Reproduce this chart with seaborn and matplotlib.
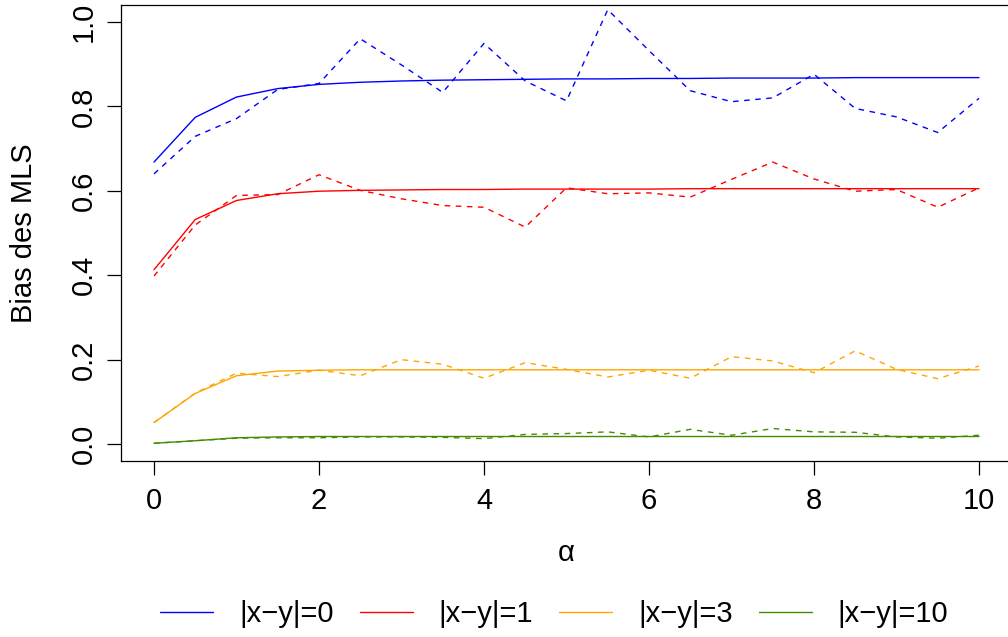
import matplotlib
matplotlib.use("Agg")
import matplotlib.pyplot as plt
import pandas as pd
import seaborn as sns

# ---- data ----
alpha = [0.0, 0.5, 1.0, 1.5, 2.0, 2.5, 3.0, 3.5, 4.0, 4.5, 5.0,
         5.5, 6.0, 6.5, 7.0, 7.5, 8.0, 8.5, 9.0, 9.5, 10.0]

theo_0 = [0.668, 0.774, 0.822, 0.842, 0.852, 0.857, 0.860, 0.862, 0.863, 0.864, 0.865,
          0.865, 0.866, 0.866, 0.867, 0.867, 0.867, 0.868, 0.868, 0.868, 0.868]
sim_0 = [0.640, 0.729, 0.771, 0.840, 0.854, 0.960, 0.898, 0.833, 0.949, 0.860, 0.813,
         1.029, 0.932, 0.837, 0.811, 0.820, 0.876, 0.795, 0.775, 0.738, 0.819]

theo_1 = [0.413, 0.532, 0.577, 0.593, 0.599, 0.601, 0.602, 0.603, 0.603, 0.604, 0.604,
          0.604, 0.604, 0.605, 0.605, 0.605, 0.605, 0.605, 0.605, 0.605, 0.605]
sim_1 = [0.398, 0.519, 0.589, 0.591, 0.638, 0.601, 0.581, 0.565, 0.561, 0.514, 0.607,
         0.593, 0.595, 0.585, 0.627, 0.668, 0.628, 0.599, 0.603, 0.561, 0.607]

theo_3 = [0.051, 0.120, 0.162, 0.173, 0.175, 0.176, 0.176, 0.176, 0.176, 0.176, 0.176,
          0.176, 0.176, 0.176, 0.176, 0.176, 0.176, 0.176, 0.176, 0.176, 0.176]
sim_3 = [0.051, 0.121, 0.168, 0.160, 0.175, 0.162, 0.200, 0.189, 0.156, 0.193, 0.177,
         0.159, 0.175, 0.156, 0.207, 0.197, 0.169, 0.221, 0.177, 0.155, 0.185]

theo_10 = [0.002, 0.008, 0.015, 0.017, 0.018, 0.018, 0.018, 0.018, 0.018, 0.018, 0.018,
           0.018, 0.018, 0.018, 0.018, 0.018, 0.018, 0.018, 0.018, 0.018, 0.018]
sim_10 = [0.002, 0.008, 0.014, 0.015, 0.015, 0.017, 0.017, 0.016, 0.013, 0.023, 0.025,
          0.029, 0.017, 0.035, 0.021, 0.037, 0.029, 0.028, 0.017, 0.014, 0.021]

labels = ["|x\u2212y|=0", "|x\u2212y|=1", "|x\u2212y|=3", "|x\u2212y|=10"]
colors = ["#0000FF", "#FF0000", "#FFA500", "#458B00"]
theo = [theo_0, theo_1, theo_3, theo_10]
sims = [sim_0, sim_1, sim_3, sim_10]

xticks = [0, 2, 4, 6, 8, 10]
yticks = [0.0, 0.2, 0.4, 0.6, 0.8, 1.0]
ytick_labels = ["0.0", "0.2", "0.4", "0.6", "0.8", "1.0"]

# ---- style ----
sns.set_theme(style="ticks")
plt.rcParams['font.family'] = ['Liberation Sans', 'DejaVu Sans']
plt.rcParams.update({
    'axes.edgecolor': 'black', 'xtick.color': 'black', 'ytick.color': 'black',
    'text.color': 'black', 'axes.labelcolor': 'black',
})
FS = 21

W, H = 1008, 637
fig = plt.figure(figsize=(W / 100, H / 100), dpi=100)
ax = fig.add_axes([121 / W, 1 - 461 / H, 891 / W, 456 / H])

handles = []
for lab, col, th, sm in zip(labels, colors, theo, sims):
    df = pd.DataFrame({"alpha": alpha, "theo": th, "sim": sm})
    sns.lineplot(data=df, x="alpha", y="theo", color=col, lw=1.0, ax=ax,
                 label=lab, errorbar=None)
    handles.append(ax.lines[-1])
    sns.lineplot(data=df, x="alpha", y="sim", color=col, lw=1.0, ax=ax,
                 linestyle=(0, (4, 4)), errorbar=None, legend=False)

if ax.get_legend() is not None:
    ax.get_legend().remove()

ax.set_xlim(-0.4, 10.4)
ax.set_ylim(-0.04, 1.04)
ax.set_xticks(xticks)
ax.set_xticklabels([str(t) for t in xticks])
ax.set_yticks(yticks)
ax.set_yticklabels(ytick_labels, rotation=90, va='center')

for s in ax.spines.values():
    s.set_visible(True)
    s.set_linewidth(0.9)
    s.set_color('black')

ax.tick_params(axis='both', direction='out', length=10, width=0.9,
               labelsize=FS, colors='black')
ax.tick_params(axis='x', pad=9)
ax.tick_params(axis='y', pad=7)

ax.set_xlabel("\u03b1", fontsize=FS)
ax.xaxis.label.set_va('center')
ax.xaxis.set_label_coords(0.5, (461 - 553) / 456)
ax.set_ylabel("Bias des MLS", fontsize=FS)
ax.yaxis.label.set_va('center')
ax.yaxis.label.set_ha('center')
ax.yaxis.set_label_coords((24.5 - 121) / 891, 0.5)

fig.legend(handles=handles, labels=labels, loc='center left',
           bbox_to_anchor=(160 / W, 1 - 614 / H), ncol=4, frameon=False,
           fontsize=FS, handlelength=1.82, handletextpad=0.89,
           columnspacing=0.89, borderpad=0, borderaxespad=0)

fig.savefig("out.png", dpi=100)
